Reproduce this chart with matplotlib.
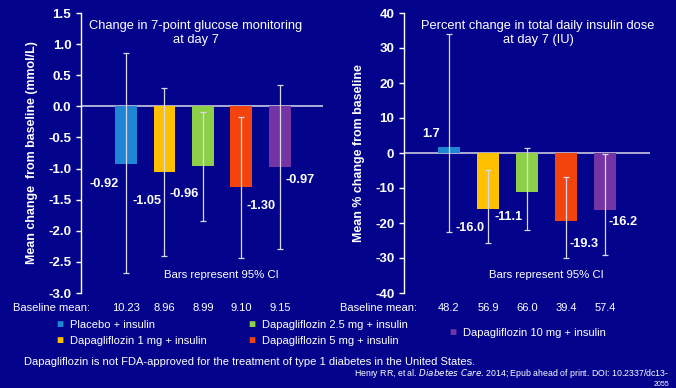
import matplotlib
matplotlib.use("Agg")
import matplotlib.pyplot as plt

plt.rcParams['font.family'] = ['Liberation Sans', 'DejaVu Sans']

BG = '#03038C'
WHITE = 'white'
ERR = '#D8D8E8'

groups = ['Placebo + insulin', 'Dapagliflozin 1 mg + insulin', 'Dapagliflozin 2.5 mg + insulin',
          'Dapagliflozin 5 mg + insulin', 'Dapagliflozin 10 mg + insulin']
colors = ['#1F85D5', '#FFC000', '#8ECF48', '#F2440C', '#7434A4']

# Left panel: change in 7-point glucose (mmol/L)
glucose_mean = [-0.92, -1.05, -0.96, -1.30, -0.97]
glucose_lo = [-2.68, -2.40, -1.85, -2.43, -2.30]
glucose_hi = [0.85, 0.29, -0.09, -0.17, 0.35]
glucose_labels = ['-0.92', '-1.05', '-0.96', '-1.30', '-0.97']
glucose_baseline = ['10.23', '8.96', '8.99', '9.10', '9.15']
glucose_ticks = [1.5, 1.0, 0.5, 0.0, -0.5, -1.0, -1.5, -2.0, -2.5, -3.0]

# Right panel: percent change in total daily insulin dose
insulin_mean = [1.7, -16.0, -11.1, -19.3, -16.2]
insulin_lo = [-22.6, -25.7, -22.0, -30.0, -29.2]
insulin_hi = [34.0, -4.8, 1.4, -6.8, -0.3]
insulin_labels = ['1.7', '-16.0', '-11.1', '-19.3', '-16.2']
insulin_baseline = ['48.2', '56.9', '66.0', '39.4', '57.4']
insulin_ticks = [40, 30, 20, 10, 0, -10, -20, -30, -40]

# label offsets in pixels (layout only)
g_off = [(-22, -20), (-17, -29), (-19, -28), (20, -19), (20, -13)]
i_off = [(-18, 13), (-18, -19), (-18, -25), (18, -23), (18, -12)]

W, H = 676, 388
fig = plt.figure(figsize=(W / 100, H / 100), dpi=100, facecolor=BG)


def px_box(x0, x1, ytop, ybot):
    return [x0 / W, 1 - ybot / H, (x1 - x0) / W, (ybot - ytop) / H]


def panel(rect, means, lo, hi, labels, baseline, ticks, ylim, xlim, width, offs,
          tick_fmt, ylabel, ylabel_x, title, title_x):
    ax = fig.add_axes(rect)
    ax.set_facecolor(BG)
    x = list(range(len(means)))
    ax.bar(x, means, width=width, color=colors, zorder=2)
    yerr = [[m - l for m, l in zip(means, lo)], [h - m for m, h in zip(means, hi)]]
    ax.errorbar(x, means, yerr=yerr, fmt='none', ecolor=ERR, elinewidth=0.9,
                capsize=2, capthick=0.9, zorder=3)
    ax.axhline(0, color='#C8C8E0', lw=1.2, zorder=1)
    ax.set_xlim(*xlim)
    ax.set_ylim(*ylim)
    ax.set_yticks(ticks)
    ax.set_yticklabels([tick_fmt(t) for t in ticks], color=WHITE,
                       fontsize=9.6, fontweight='bold')
    ax.set_xticks([])
    for s in ['top', 'right', 'bottom']:
        ax.spines[s].set_visible(False)
    ax.spines['left'].set_color(WHITE)
    ax.spines['left'].set_linewidth(1.0)
    ax.tick_params(axis='y', colors=WHITE, length=3.5, width=1, pad=3.5)
    ax.set_ylabel(ylabel, color=WHITE, fontsize=8.9, fontweight='bold')
    ax.yaxis.set_label_coords(ylabel_x, 0.5)
    for xi, m, lab, (dx, dy) in zip(x, means, labels, offs):
        ax.annotate(lab, (xi, m), xytext=(dx * 0.72, dy * 0.72), textcoords='offset points',
                    ha='center', va='center', color=WHITE, fontsize=9.2, fontweight='bold')
    ax.text(0.58, 0.065, 'Bars represent 95% CI', transform=ax.transAxes,
            ha='center', va='center', color=WHITE, fontsize=8.2)
    for xi, b in zip(x, baseline):
        ax.text(xi, -0.054, b, transform=ax.get_xaxis_transform(), ha='center',
                va='center', color=WHITE, fontsize=8, clip_on=False)
    fig.text(title_x / W, 1 - 33 / H, title, ha='center', va='center',
             color=WHITE, fontsize=9.3, linespacing=1.15)
    return ax


axL = panel(px_box(81, 323, 13, 293), glucose_mean, glucose_lo, glucose_hi, glucose_labels,
            glucose_baseline, glucose_ticks, (-3.0, 1.5), (-1.17, 5.12), 0.57, g_off,
            lambda t: f'{t:.1f}', 'Mean change  from baseline (mmol/L)', -43 / 242,
            'Change in 7-point glucose monitoring\nat day 7', 196)
axR = panel(px_box(404, 650, 13, 293), insulin_mean, insulin_lo, insulin_hi, insulin_labels,
            insulin_baseline, insulin_ticks, (-40, 40), (-1.15, 5.15), 0.58, i_off,
            lambda t: f'{t:d}', 'Mean % change from baseline', -39 / 246,
            'Percent change in total daily insulin dose\nat day 7 (IU)', 538)

fig.text(13 / W, 1 - 308 / H, 'Baseline mean:', color=WHITE, fontsize=8, ha='left', va='center')
fig.text(340 / W, 1 - 308 / H, 'Baseline mean:', color=WHITE, fontsize=8, ha='left', va='center')

# legend entries
leg_pos = [(60, 325), (60, 341), (252, 325), (252, 341), (453, 333)]
for (lx, ly), name, c in zip(leg_pos, groups, colors):
    fig.text(lx / W, 1 - ly / H, '\u25A0', color=c, fontsize=8.5, ha='center', va='center')
    fig.text((lx + 10) / W, 1 - ly / H, name, color=WHITE, fontsize=8, ha='left', va='center')

fig.text(24 / W, 1 - 362 / H,
         'Dapagliflozin is not FDA-approved for the treatment of type 1 diabetes in the United States.',
         color=WHITE, fontsize=8, ha='left', va='center')
fig.text(669 / W, 1 - 374 / H,
         'Henry RR, et al. $\\it{Diabetes\\ Care}$. 2014; Epub ahead of print. DOI: 10.2337/dc13-',
         color=WHITE, fontsize=6.3, ha='right', va='center')
fig.text(669 / W, 0.5 / H, '2055', color=WHITE, fontsize=5, ha='right', va='bottom')

fig.savefig('out.png', dpi=100, facecolor=BG)
